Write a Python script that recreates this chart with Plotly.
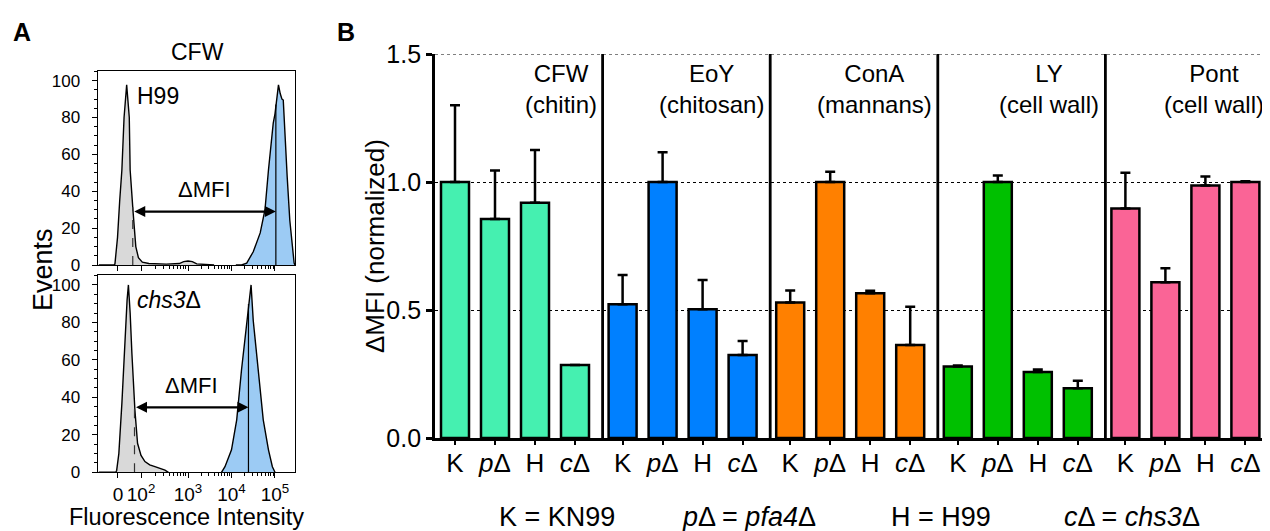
import numpy as np
import plotly.graph_objects as go

W, H = 1270, 531
OFF = 8  # page body margin compensation
FONT = "Liberation Sans, Arial, Helvetica, sans-serif"

# ---------------- Panel A data (display coordinate u ~ log10 intensity) ----------------
A_XTICK_POS = [1.39, 1.92, 3.0, 4.0, 5.0]
A_XTICK_TEXT = ["0", "10<sup>2</sup>", "10<sup>3</sup>", "10<sup>4</sup>", "10<sup>5</sup>"]

H99_UNST_U = [0.95, 1.30, 1.32, 1.38, 1.43, 1.48, 1.53, 1.59, 1.65, 1.67, 1.74, 1.80, 1.86, 1.95,
              2.10, 2.50, 2.80, 2.90, 3.00, 3.10, 3.20, 3.40, 3.60]
H99_UNST_N = [0, 0, 0.5, 15, 35, 51.5, 80, 97.7, 80, 51.5, 28, 10, 4, 1.5,
              0.8, 0.5, 0.8, 1.8, 2.2, 1.8, 0.6, 0.3, 0]
H99_CFW_U = [4.10, 4.23, 4.35, 4.50, 4.66, 4.77, 4.85, 4.92, 4.96, 5.00, 5.04, 5.08, 5.12, 5.16,
             5.19, 5.23, 5.28, 5.34, 5.40, 5.44, 5.46]
H99_CFW_N = [0, 0, 1, 7.2, 17.4, 30, 51.5, 70, 77, 82, 92, 97.7, 93, 90,
             89.5, 69.6, 48, 24.4, 8, 1, 0]

CHS3_UNST_U = [0.95, 1.34, 1.36, 1.41, 1.48, 1.55, 1.60, 1.63, 1.67, 1.71, 1.78, 1.84, 1.92,
               2.01, 2.12, 2.24, 2.35, 2.47, 2.55]
CHS3_UNST_N = [0, 0, 1, 10, 36.8, 72.4, 92, 100, 85, 63.5, 33, 15.5, 9,
               5.7, 4, 3, 2, 1.2, 0]
CHS3_CFW_U = [3.77, 3.85, 4.00, 4.12, 4.23, 4.35, 4.40, 4.45, 4.50, 4.62, 4.73, 4.85, 4.94, 5.00]
CHS3_CFW_N = [0, 3, 12, 28, 54.6, 81, 92, 100, 81, 54.6, 28, 12, 3, 0]

MEDIAN_UNST = [1.73, 1.77]      # H99, chs3
MEDIAN_CFW = [5.02, 4.39]
ARROW_LEVEL = [29, 34.7]
STRAIN_LABELS = ["H99", "<i>chs3</i>Δ"]

# ---------------- Panel B data ----------------
STRAINS = ["K", "<i>p</i>Δ", "H", "<i>c</i>Δ"]
STAINS = ["CFW<br>(chitin)", "EoY<br>(chitosan)", "ConA<br>(mannans)", "LY<br>(cell wall)", "Pont<br>(cell wall)"]
STAIN_COLORS = ["#45F0B0", "#0080FF", "#FF8000", "#00C000", "#FA6496"]
CFW_VAL = [1.0, 0.855, 0.919, 0.285]
CFW_ERR = [0.30, 0.19, 0.206, 0.0]
EOY_VAL = [0.522, 1.0, 0.503, 0.324]
EOY_ERR = [0.115, 0.116, 0.114, 0.055]
CONA_VAL = [0.529, 1.0, 0.565, 0.363]
CONA_ERR = [0.047, 0.04, 0.01, 0.15]
LY_VAL = [0.279, 1.0, 0.258, 0.194]
LY_ERR = [0.004, 0.025, 0.01, 0.03]
PONT_VAL = [0.896, 0.608, 0.986, 1.0]
PONT_ERR = [0.14, 0.055, 0.035, 0.003]
VALUES = [CFW_VAL, EOY_VAL, CONA_VAL, LY_VAL, PONT_VAL]
ERRORS = [CFW_ERR, EOY_ERR, CONA_ERR, LY_ERR, PONT_ERR]
KEY_TEXT = ["K = KN99", "<i>p</i>Δ = <i>pfa4</i>Δ", "H = H99", "<i>c</i>Δ = <i>chs3</i>Δ"]

# ---------------- helpers ----------------
def fx(px):
    return (px - OFF) / W

def fy(py):
    return 1 - (py - OFF) / H

fig = go.Figure()

GRAY = "#D9D9D9"
BLUE = "#9CCBF4"

hists = [
    (H99_UNST_U, H99_UNST_N, GRAY, "x", "y"),
    (H99_CFW_U, H99_CFW_N, BLUE, "x", "y"),
    (CHS3_UNST_U, CHS3_UNST_N, GRAY, "x2", "y2"),
    (CHS3_CFW_U, CHS3_CFW_N, BLUE, "x2", "y2"),
]
for u, n, col, xa, ya in hists:
    fig.add_trace(go.Scatter(x=u, y=n, mode="lines", fill="tozeroy", fillcolor=col,
                             line=dict(color="black", width=1.4), xaxis=xa, yaxis=ya,
                             showlegend=False, hoverinfo="skip"))

shapes = []
annotations = []
hist_pairs = [(H99_UNST_U, H99_UNST_N, H99_CFW_U, H99_CFW_N), (CHS3_UNST_U, CHS3_UNST_N, CHS3_CFW_U, CHS3_CFW_N)]
for k, (xa, ya) in enumerate([("x", "y"), ("x2", "y2")]):
    uu, un, cu, cn = hist_pairs[k]
    h_un = float(np.interp(MEDIAN_UNST[k], uu, un))
    h_cf = float(np.interp(MEDIAN_CFW[k], cu, cn))
    shapes.append(dict(type="line", xref=xa, yref=ya, x0=MEDIAN_UNST[k], x1=MEDIAN_UNST[k], y0=0, y1=h_un,
                       line=dict(color="#333", width=1.2, dash="dash")))
    shapes.append(dict(type="line", xref=xa, yref=ya, x0=MEDIAN_CFW[k], x1=MEDIAN_CFW[k], y0=0, y1=h_cf,
                       line=dict(color="black", width=1.2)))
    annotations.append(dict(xref=xa, yref=ya, axref=xa, ayref=ya, x=MEDIAN_CFW[k], y=ARROW_LEVEL[k],
                            ax=MEDIAN_UNST[k], ay=ARROW_LEVEL[k], text="", showarrow=True,
                            arrowhead=2, startarrowhead=2, arrowside="end+start", arrowwidth=2.2,
                            arrowsize=1.0, startarrowsize=1.0, arrowcolor="black", standoff=0, startstandoff=0))
    mid = (MEDIAN_UNST[k] + MEDIAN_CFW[k]) / 2
    annotations.append(dict(xref=xa, yref=ya, x=mid, y=ARROW_LEVEL[k] + 4, text="ΔMFI", showarrow=False,
                            yanchor="bottom", xanchor="center", font=dict(size=22, color="black", family=FONT)))
    annotations.append(dict(xref=xa, yref=ya, x=1.79, y=100, text=STRAIN_LABELS[k], showarrow=False,
                            xanchor="left", yanchor="top", font=dict(size=23, color="black", family=FONT)))

# minor ticks for biexponential axis
minor_x = []
for d, start, span in [(2, 1.92, 1.08), (3, 3.0, 1.0), (4, 4.0, 1.0)]:
    for m in range(2, 10):
        minor_x.append(start + span * np.log10(m))

A_XDOM = [fx(97.7), fx(295)]
A_XRANGE = [0.924, 5.46]
common_ax = dict(showline=True, linecolor="black", linewidth=1.2, mirror=True, showgrid=False,
                 zeroline=False, ticks="outside", tickcolor="black", tickwidth=1.2, automargin=False)
xA = dict(common_ax, domain=A_XDOM, range=A_XRANGE, tickvals=A_XTICK_POS, ticktext=A_XTICK_TEXT,
          ticklen=5, minor=dict(tickvals=minor_x, ticks="outside", ticklen=3, tickcolor="black"),
          tickfont=dict(size=19, family=FONT, color="black"))
yA = dict(common_ax, range=[0, 105.4], tickvals=[0, 20, 40, 60, 80, 100], ticklen=5,
          minor=dict(dtick=5, ticks="outside", ticklen=3, tickcolor="black"),
          tickfont=dict(size=17, family="Liberation Sans Narrow, Arial Narrow, " + FONT, color="black"),
          ticklabelstandoff=8)

# ---------------- Panel B ----------------
GROUP_W = 4.19
X_RANGE_B = [0, 835 / 40]
for g in range(5):
    xs = [g * GROUP_W + 0.5 + i for i in range(4)]
    fig.add_trace(go.Bar(x=xs, y=VALUES[g], width=0.7, marker=dict(color=STAIN_COLORS[g],
                         line=dict(color="black", width=2.5)),
                         error_y=dict(type="data", array=ERRORS[g], arrayminus=[0] * 4, symmetric=False,
                                      color="black", thickness=2.5, width=5),
                         xaxis="x3", yaxis="y3", showlegend=False))
    if g > 0:
        shapes.append(dict(type="line", xref="x3", yref="y3", x0=g * GROUP_W, x1=g * GROUP_W, y0=0, y1=1.5,
                           line=dict(color="black", width=2.8)))
    annotations.append(dict(xref="x3", yref="paper", x=min((g + 1) * GROUP_W, X_RANGE_B[1]), y=fy(89),
                            xshift=-4, text=STAINS[g], showarrow=False, xanchor="right", yanchor="middle",
                            align="center", font=dict(size=24, color="black", family=FONT)))
# dotted line at the top of the value axis
shapes.append(dict(type="line", xref="x3", yref="y3", x0=0, x1=X_RANGE_B[1], y0=1.5, y1=1.5,
                   line=dict(color="black", width=1, dash="dot")))

tickpos_b = [g * GROUP_W + 0.5 + i for g in range(5) for i in range(4)]
ticktext_b = STRAINS * 5

xB = dict(domain=[fx(435), fx(1270)], range=X_RANGE_B, anchor="y3", showline=True, linecolor="black",
          linewidth=2.5, showgrid=False, zeroline=False, ticks="outside", ticklen=4, tickwidth=2,
          tickcolor="black", tickvals=tickpos_b, ticktext=ticktext_b, automargin=False,
          ticklabelstandoff=-4,
          tickfont=dict(size=26, family=FONT, color="black"))
yB = dict(domain=[fy(438), fy(54)], range=[0, 1.5], anchor="x3", showline=True, linecolor="black",
          linewidth=2.8, ticks="outside", ticklen=6, tickwidth=2.5, tickcolor="black",
          tickvals=[0, 0.5, 1.0, 1.5], tickformat=".1f", showgrid=True, gridcolor="black",
          griddash="dot", gridwidth=1, zeroline=False, automargin=False,
          tickfont=dict(size=25, family=FONT, color="black"))

# ---------------- text ----------------
def ptext(x, y, text, size, angle=0):
    return dict(xref="paper", yref="paper", x=fx(x), y=fy(y), text=text, showarrow=False,
                xanchor="center", yanchor="middle", textangle=angle,
                font=dict(size=size, family=FONT, color="black"))

annotations += [
    ptext(22, 32, "<b>A</b>", 25),
    ptext(346, 32, "<b>B</b>", 25),
    ptext(197, 52, "CFW", 23),
    ptext(43, 270, "Events", 27, -90),
    ptext(186, 517, "Fluorescence Intensity", 23.5),
    ptext(375, 246, "ΔMFI (normalized)", 26, -90),
]
for cx, t in zip([557, 749, 941, 1132], KEY_TEXT):
    annotations.append(ptext(cx, 517, t, 27))

xA2 = dict(xA)
xA_top = dict(xA, showticklabels=False, anchor="y")
xA2.update(anchor="y2")
fig.update_layout(
    width=W, height=H, margin=dict(l=0, r=0, t=0, b=0, autoexpand=False),
    paper_bgcolor="white", plot_bgcolor="white", barmode="overlay",
    font=dict(family=FONT, color="black"),
    xaxis=xA_top,
    yaxis=dict(yA, domain=[fy(265), fy(70.7)], anchor="x"),
    xaxis2=xA2,
    yaxis2=dict(yA, domain=[fy(472.3), fy(275)], anchor="x2", range=[0, 105.3]),
    xaxis3=xB, yaxis3=yB,
    shapes=shapes, annotations=annotations,
)

fig.write_html("out.html")
